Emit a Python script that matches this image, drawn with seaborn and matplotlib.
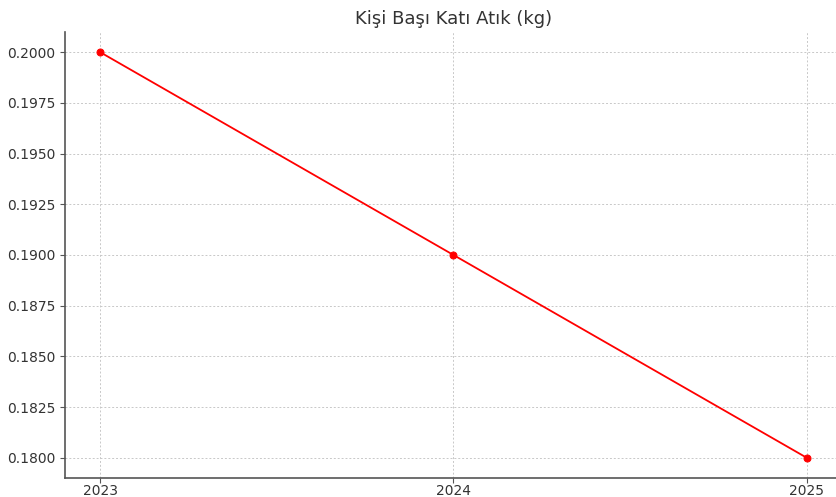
import matplotlib
matplotlib.use("Agg")
import matplotlib.pyplot as plt
import seaborn as sns
import pandas as pd

years = [2023, 2024, 2025]
values = [0.200, 0.190, 0.180]
title = "Kişi Başı Katı Atık (kg)"

sns.set_style("white")
plt.rcParams['font.family'] = ['DejaVu Sans']

df = pd.DataFrame({"Yıl": years, "Atık": values})

fig = plt.figure(figsize=(8.37, 4.97), dpi=100)
ax = fig.add_axes([65/837, 19/497, (842-65)/837, (478-32)/497])
sns.lineplot(data=df, x="Yıl", y="Atık", ax=ax, color="red", marker="o",
             markersize=5, markeredgecolor="red", linewidth=1.3)
ax.set_xticks(years)
ax.set_xticklabels([str(y) for y in years])
ax.set_yticks([0.18 + 0.0025 * i for i in range(9)])
ax.yaxis.set_major_formatter(matplotlib.ticker.FormatStrFormatter('%.4f'))
ax.set_xlabel("")
ax.set_ylabel("")
ax.set_title(title, fontsize=13, color="#333333", pad=6)
ax.grid(True, linestyle=(0, (2, 2)), color="#c8c8c8", linewidth=0.7)
sns.despine(ax=ax)
for s in ["left", "bottom"]:
    ax.spines[s].set_color("#555555")
    ax.spines[s].set_linewidth(1.2)
ax.tick_params(axis="both", which="major", labelsize=10, colors="#333333",
               length=3.5, width=0.8, direction="out", left=True, bottom=True)
ax.tick_params(axis="x", pad=0.5)
ax.tick_params(axis="both", color="#555555")
fig.savefig("out.png", dpi=100)
